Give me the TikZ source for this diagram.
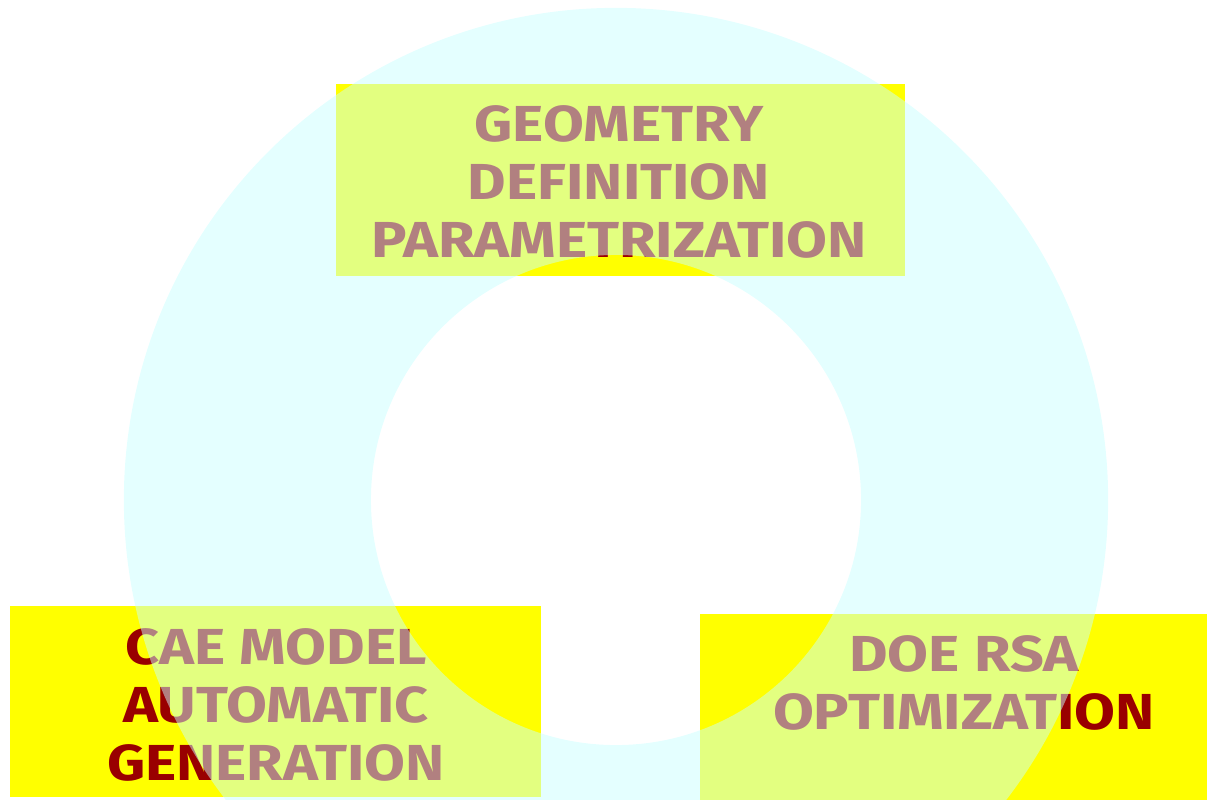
\documentclass[tikz,border=0pt]{standalone}
\usepackage{fontspec}
\usepackage{xcolor}
\usepackage{tikz}
\usetikzlibrary{positioning}
\newfontfamily\boxfont{Fira Sans}[FakeStretch=1.17]
\definecolor{boxyellow}{RGB}{255,255,0}
\definecolor{txtred}{RGB}{153,0,0}
\definecolor{ringcyan}{RGB}{201,255,255}
\begin{document}
\begin{tikzpicture}[
      x=0.025cm, y=-0.025cm,
      every node/.style={font=\boxfont\bfseries\fontsize{36}{41}\selectfont},
      box/.style={
        fill=boxyellow, inner sep=0pt
      },
      steptext/.style={
        text=txtred, align=center, inner sep=0pt
      },
      ring/.style={
        fill=ringcyan, fill opacity=0.5, even odd rule
      }
    ]
    \clip (0,0) rectangle (1207,800);
    \useasboundingbox (0,0) rectangle (1207,800);

    % boxes
    \node[box, minimum width=14.225cm, minimum height=4.8cm] (geo) at (620.5,180) {};
    \node[box, minimum width=13.275cm, minimum height=4.775cm] (cae) at (275.5,701.5) {};
    \node[box, minimum width=12.675cm, minimum height=4.65cm] (doe) at (953.5,707) {};

    % texts
    \node[steptext] (geotext) at (619,182) {GEOMETRY\\DEFINITION\hspace*{0.3em}\\PARAMETRIZATION};
    \node[steptext] (caetext) at (276,705) {CAE MODEL\\AUTOMATIC\\GENERATION};
    \node[steptext] (doetext) at (964,683) {DOE RSA\\OPTIMIZATION};

    % ring on top
    \coordinate (c) at (616,500);
    \fill[ring] (c) circle[radius=12.3cm] (c) circle[radius=6.125cm];
  \end{tikzpicture}
\end{document}
